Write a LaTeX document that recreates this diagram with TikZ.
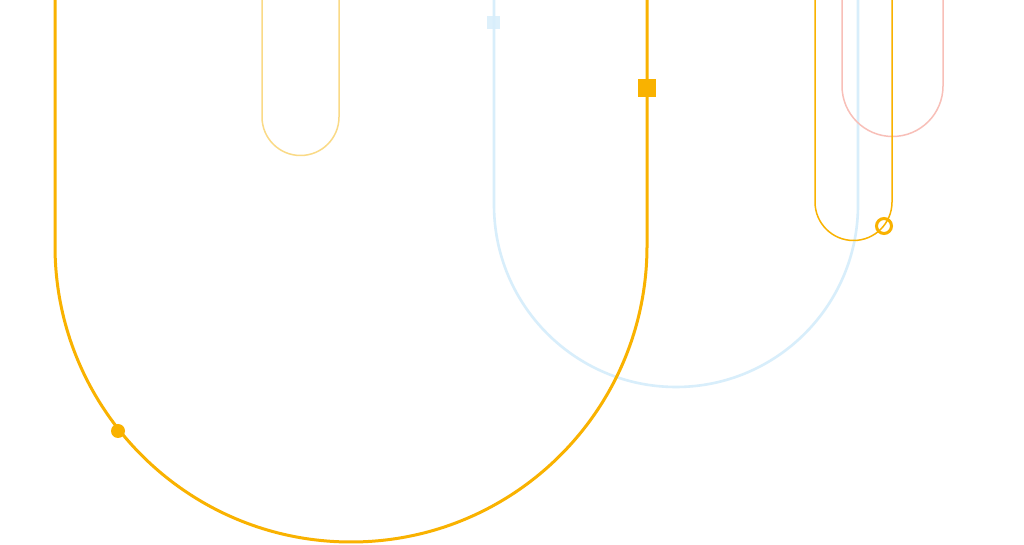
\documentclass[tikz,border=0pt]{standalone}
\definecolor{orangeA}{HTML}{F9B200}
\definecolor{blueA}{HTML}{D8EEFB}
\definecolor{yellowA}{HTML}{FADA86}
\definecolor{pinkA}{HTML}{F8BFB8}
\tikzset{
  bigline/.style={line width=3pt, line join=round},
  thinline/.style={line width=1.5pt},
}
\begin{document}
\begin{tikzpicture}[x=1pt,y=1pt]
\useasboundingbox (0,0) rectangle (1024,545);
\fill[white] (0,0) rectangle (1024,545);
\clip (0,0) rectangle (1024,545);
% light blue U
\draw[bigline, blueA, line width=2.6pt] (494,550) -- (494,340) arc[start angle=180, end angle=360, radius=182] -- (858,550);
% big orange U
\draw[bigline, orangeA] (55,550) -- (55,299) arc[start angle=180, end angle=360, radius=296] -- (647,550);
% small yellow U
\draw[thinline, yellowA] (262,550) -- (262,428) arc[start angle=180, end angle=360, radius=38.5] -- (339,550);
% pink U
\draw[thinline, pinkA] (842,550) -- (842,459) arc[start angle=180, end angle=360, radius=50.5] -- (943,550);
% thin orange U
\draw[thinline, orangeA] (815,550) -- (815,343) arc[start angle=180, end angle=360, radius=38.5] -- (892,550);
% marks
\node[circle, fill=orangeA, minimum size=14pt, inner sep=0pt] (dot) at (118,114) {};
\node[circle, draw=orangeA, line width=3pt, minimum size=15pt, inner sep=0pt] (ring) at (884,319) {};
\node[rectangle, fill=orangeA, minimum size=18pt, inner sep=0pt] (sq) at (647,457) {};
\node[rectangle, fill=blueA, fill opacity=0.85, minimum size=13pt, inner sep=0pt] (bsq) at (493.5,522) {};
\end{tikzpicture}
\end{document}
